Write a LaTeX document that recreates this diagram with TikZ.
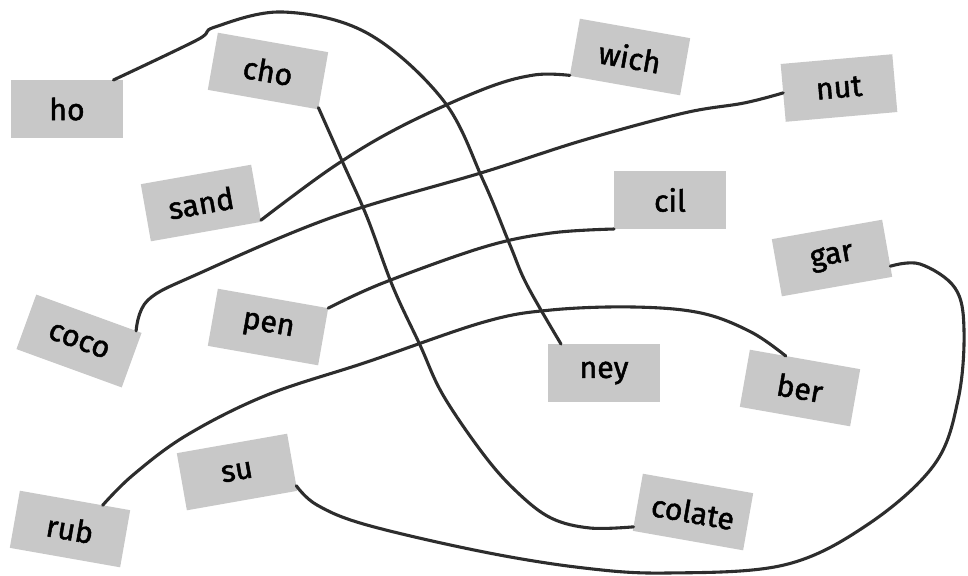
\documentclass[tikz,border=0pt]{standalone}
\usepackage{fontspec}
\setmainfont{Fira Sans}
\newfontfamily\cardfont{Fira Sans}[FakeBold=1.6]
\definecolor{boxgray}{RGB}{200,200,200}
\definecolor{inkgray}{RGB}{45,45,45}
\tikzset{
  piece/.style={fill=boxgray, minimum width=2.8cm, minimum height=1.45cm,
    inner sep=0pt, outer sep=0pt, font=\cardfont\fontsize{21.5}{24}\selectfont},
  wire/.style={inkgray, line width=2.2pt, line cap=round, line join=round}
}
\begin{document}
\begin{tikzpicture}[x=0.025cm,y=-0.025cm]
    \useasboundingbox (0,0) rectangle (968,575);
    % syllable cards
    \node[piece]             (ho)     at (67,109)  {ho};
    \node[piece,rotate=-10]  (cho)    at (268,71)  {cho};
    \node[piece,rotate=10]   (sand)   at (201,203) {sand};
    \node[piece,rotate=-10]  (wich)   at (630,57)  {wich};
    \node[piece,rotate=5]    (nut)    at (839,88)  {nut};
    \node[piece]             (cil)    at (670,200) {cil};
    \node[piece,rotate=10]   (gar)    at (832,258) {gar};
    \node[piece,rotate=-20]  (coco)   at (79,341)  {coco};
    \node[piece,rotate=-10]  (pen)    at (268,327) {pen};
    \node[piece]             (ney)    at (604,373) {ney};
    \node[piece,rotate=-10]  (ber)    at (800,388) {ber};
    \node[piece,rotate=10]   (su)     at (237,472) {su};
    \node[piece,rotate=-10]  (rub)    at (70,529)  {rub};
    \node[piece,rotate=-10]  (colate) at (693,512) {colate};

    % hand drawn links
    \draw[wire] plot[smooth,tension=0.6] coordinates {(ho.32) (197,40) (215,27) (283,12) (367,33) (443,100) (483,180) (510,245) (527,285) (ney.146)};
    \draw[wire] plot[smooth,tension=0.6] coordinates {(cho.-26) (343,163) (367,217) (393,287) (420,345) (443,395) (484,455) (517,492) (551,518) (590,528) (colate.204)};
    \draw[wire] plot[smooth,tension=0.6] coordinates {(sand.-26) (333,167) (400,127) (484,89) (534,75) (wich.207)};
    \draw[wire] plot[smooth,tension=0.6] coordinates {(coco.30) (148,300) (200,273) (333,217) (484,172) (584,140) (684,113) (744,103) (nut.west)};
    \draw[wire] plot[smooth,tension=0.6] coordinates {(pen.north east) (383,283) (484,247) (551,233) (cil.south west)};
    \draw[wire] plot[smooth,tension=0.6] coordinates {(rub.46) (133,475) (187,435) (267,395) (367,362) (484,322) (551,310) (634,307) (701,313) (751,332) (ber.124)};
    \draw[wire] plot[smooth,tension=0.6] coordinates {(su.-23) (317,505) (367,525) (484,552) (584,568) (667,573) (784,565) (867,525) (934,465) (958,400) (964,330) (955,288) (920,264) (gar.-18)};
\end{tikzpicture}
\end{document}
